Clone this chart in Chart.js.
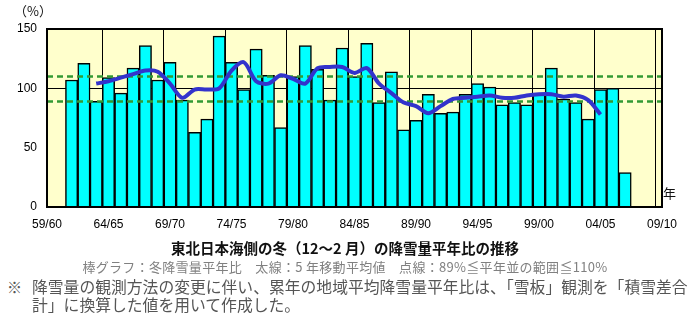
<!DOCTYPE html>
<html lang="ja">
<head>
<meta charset="utf-8">
<script src="https://cdn.jsdelivr.net/npm/chart.js@4"></script>
<style>
  html, body { margin: 0; padding: 0; background: #fff; }
  #wrap { position: relative; width: 690px; height: 320px; overflow: hidden; font-family: "Noto Sans CJK JP", sans-serif; }
  #chart { position: absolute; left: 0; top: 0; }
  .txt { position: absolute; white-space: nowrap; line-height: 1; }
  #unit { left: 14px; top: 4px; font-size: 13px; color: #111; }
  #nen { left: 663px; top: 186px; font-size: 13px; color: #111; }
  #title { left: 0; width: 690px; text-align: center; top: 241px; font-size: 14.5px; font-weight: bold; color: #111; }
  #sub { left: 0; width: 690px; text-align: center; top: 260px; font-size: 13px; letter-spacing: 0.3px; color: #808080; }
  #mark { left: 7px; top: 279px; font-size: 15px; color: #555; }
  #note1 { left: 32px; top: 279px; font-size: 15.8px; color: #555; }
  #note2 { left: 32px; top: 297px; font-size: 15.8px; color: #555; }
</style>
</head>
<body>
<div id="wrap">
  <canvas id="chart" width="690" height="240"></canvas>
  <div class="txt" id="unit">（%）</div>
  <div class="txt" id="nen">年</div>
  <div class="txt" id="title">東北日本海側の冬（12～2 月）の降雪量平年比の推移</div>
  <div class="txt" id="sub">棒グラフ：冬降雪量平年比　太線：5 年移動平均値　点線：89%≦平年並の範囲≦110%</div>
  <div class="txt" id="mark">※</div>
  <div class="txt" id="note1">降雪量の観測方法の変更に伴い、累年の地域平均降雪量平年比は、「雪板」観測を「積雪差合</div>
  <div class="txt" id="note2">計」に換算した値を用いて作成した。</div>
</div>
<script>
// x axis: every winter from 59/60 to 09/10
const seasons = [
  "59/60", "60/61", "61/62", "62/63", "63/64", "64/65", "65/66", "66/67", "67/68", "68/69",
  "69/70", "70/71", "71/72", "72/73", "73/74", "74/75", "75/76", "76/77", "77/78", "78/79",
  "79/80", "80/81", "81/82", "82/83", "83/84", "84/85", "85/86", "86/87", "87/88", "88/89",
  "89/90", "90/91", "91/92", "92/93", "93/94", "94/95", "95/96", "96/97", "97/98", "98/99",
  "99/00", "00/01", "01/02", "02/03", "03/04", "04/05", "05/06", "06/07", "07/08", "08/09",
  "09/10"
];
const xTickLabels = ["59/60", "64/65", "69/70", "74/75", "79/80", "84/85", "89/90", "94/95", "99/00", "04/05", "09/10"];
const yTicks = [0, 50, 100, 150];

// winter snowfall ratio to normal (%), 61/62 .. 06/07
const barStart = "61/62";
const snowRatio = [
  107, 121, 89, 109, 96, 117, 136, 107, 122, 90,
  63, 74, 144, 122, 99, 133, 111, 67, 110, 136,
  116, 90, 134, 110, 138, 88, 114, 65, 73, 95,
  79, 80, 95, 104, 101, 86, 88, 86, 95, 117,
  91, 88, 74, 99, 100, 29
];

// 5-year moving average, 63/64 .. 04/05
const avgStart = "63/64";
const movingAvg = [
  104, 106, 109, 112, 115, 114, 104, 92, 99, 99,
  100, 115, 122, 106, 104, 111, 108, 104, 117, 118,
  118, 113, 117, 104, 96, 88, 85, 79, 85, 91,
  92, 93, 94, 92, 92, 94, 95, 95, 93, 94,
  90, 78
];

// range of "normal"
const normalLow = 89;
const normalHigh = 110;

function placeOnAxis(start, values) {
  const out = seasons.map(() => null);
  const i0 = seasons.indexOf(start);
  values.forEach((v, i) => { out[i0 + i] = v; });
  return out;
}

const plotFrame = {
  id: "plotFrame",
  beforeDraw(chart) {
    const { ctx, chartArea: a } = chart;
    ctx.save();
    ctx.fillStyle = "#ffffcc";
    ctx.fillRect(a.left, a.top, a.right - a.left, a.bottom - a.top);
    ctx.restore();
  },
  afterDraw(chart) {
    const { ctx, chartArea: a } = chart;
    ctx.save();
    ctx.strokeStyle = "#000";
    ctx.lineWidth = 2;
    ctx.strokeRect(a.left, a.top, a.right - a.left, a.bottom - a.top);
    ctx.restore();
  },
};

const numFont = { family: "'Liberation Sans', Arial, sans-serif", size: 12 };

new Chart(document.getElementById("chart"), {
  data: {
    labels: seasons,
    datasets: [
      {
        type: "line",
        label: "5年移動平均",
        data: placeOnAxis(avgStart, movingAvg),
        borderColor: "#3333cc",
        borderWidth: 4,
        pointRadius: 0,
        tension: 0.3,
        fill: false,
        order: 1,
      },
      {
        type: "line",
        label: "上限",
        data: seasons.map(() => normalHigh),
        borderColor: "#339933",
        borderWidth: 2.5,
        borderDash: [6, 4],
        pointRadius: 0,
        fill: false,
        order: 2,
      },
      {
        type: "line",
        label: "下限",
        data: seasons.map(() => normalLow),
        borderColor: "#339933",
        borderWidth: 2.5,
        borderDash: [6, 4],
        pointRadius: 0,
        fill: false,
        order: 2,
      },
      {
        type: "bar",
        label: "冬降雪量平年比",
        data: placeOnAxis(barStart, snowRatio),
        backgroundColor: "#00ffff",
        borderColor: "#000",
        borderWidth: 1.5,
        barPercentage: 1,
        categoryPercentage: 1,
        order: 3,
      },
    ],
  },
  options: {
    responsive: false,
    animation: false,
    layout: { padding: { top: 29, right: 28, left: 0, bottom: 0 } },
    plugins: { legend: { display: false }, tooltip: { enabled: false } },
    scales: {
      x: {
        type: "category",
        offset: false,
        afterFit: (s) => { s.height = 33; },
        grid: {
          drawTicks: false,
          color: (c) => (xTickLabels.includes(seasons[c.index]) ? "#000" : "rgba(0,0,0,0)"),
          lineWidth: 1,
        },
        border: { display: false },
        ticks: {
          autoSkip: false,
          maxRotation: 0,
          padding: 10,
          color: "#000",
          font: numFont,
          callback: (v, i) => (xTickLabels.includes(seasons[i]) ? seasons[i] : ""),
        },
      },
      y: {
        min: 0,
        max: 150,
        afterFit: (s) => { s.width = 47; },
        afterBuildTicks: (s) => { s.ticks = yTicks.map((v) => ({ value: v })); },
        grid: {
          drawTicks: false,
          color: (c) => (c.tick && c.tick.value === 100 ? "#000" : "rgba(0,0,0,0)"),
          lineWidth: 1,
        },
        border: { display: false },
        ticks: { padding: 10, color: "#000", font: numFont },
      },
    },
  },
  plugins: [plotFrame],
});
</script>
</body>
</html>
